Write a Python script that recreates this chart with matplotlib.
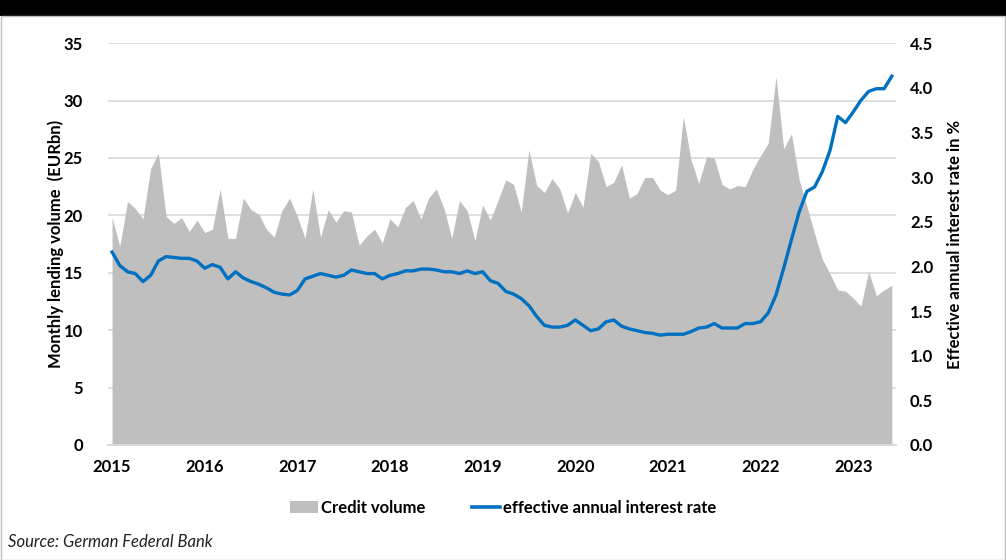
import matplotlib.pyplot as plt
from matplotlib.patches import Rectangle, Patch
from matplotlib.lines import Line2D

plt.rcParams['font.family'] = ['Lato', 'DejaVu Sans']

# monthly data, Jan 2015 - Jun 2023
credit_volume = [
    19.8, 17.3, 21.2, 20.6, 19.7, 24.1, 25.4, 19.9, 19.3, 19.8, 18.6, 19.6,   # 2015
    18.5, 18.8, 22.3, 18.0, 18.0, 21.5, 20.5, 20.1, 18.8, 18.1, 20.4, 21.5,   # 2016
    19.9, 18.0, 22.3, 18.1, 20.5, 19.4, 20.4, 20.3, 17.4, 18.2, 18.8, 17.6,   # 2017
    19.7, 19.0, 20.7, 21.3, 19.7, 21.5, 22.3, 20.6, 18.0, 21.3, 20.4, 17.8,   # 2018
    20.9, 19.6, 21.3, 23.1, 22.7, 20.3, 25.7, 22.6, 22.0, 23.2, 22.3, 20.2,   # 2019
    22.0, 20.7, 25.4, 24.7, 22.5, 22.9, 24.4, 21.5, 21.9, 23.3, 23.3, 22.2,   # 2020
    21.8, 22.2, 28.6, 24.8, 22.8, 25.1, 25.0, 22.7, 22.3, 22.6, 22.5, 24.0,   # 2021
    25.2, 26.3, 32.1, 25.8, 27.1, 23.1, 20.8, 18.4, 16.2, 14.9, 13.5, 13.4,   # 2022
    12.8, 12.1, 15.1, 13.0, 13.5, 13.9,                                       # 2023
]

interest_rate = [
    2.16, 2.01, 1.94, 1.92, 1.83, 1.90, 2.06, 2.11, 2.10, 2.09, 2.09, 2.06,
    1.98, 2.02, 1.99, 1.86, 1.94, 1.87, 1.83, 1.80, 1.76, 1.71, 1.69, 1.68,
    1.73, 1.86, 1.89, 1.92, 1.90, 1.88, 1.90, 1.96, 1.94, 1.92, 1.92, 1.86,
    1.90, 1.92, 1.95, 1.95, 1.97, 1.97, 1.96, 1.94, 1.94, 1.92, 1.95, 1.92,
    1.94, 1.84, 1.81, 1.72, 1.69, 1.64, 1.56, 1.44, 1.34, 1.32, 1.32, 1.34,
    1.40, 1.34, 1.28, 1.30, 1.38, 1.40, 1.33, 1.30, 1.28, 1.26, 1.25, 1.23,
    1.24, 1.24, 1.24, 1.27, 1.31, 1.32, 1.36, 1.31, 1.31, 1.31, 1.36, 1.36,
    1.38, 1.48, 1.68, 1.98, 2.30, 2.61, 2.84, 2.89, 3.06, 3.30, 3.68, 3.61,
    3.73, 3.86, 3.96, 3.99, 3.99, 4.13,
]

year_labels = ["2015", "2016", "2017", "2018", "2019", "2020", "2021", "2022", "2023"]
left_ticks = [0, 5, 10, 15, 20, 25, 30, 35]
right_ticks = [0.0, 0.5, 1.0, 1.5, 2.0, 2.5, 3.0, 3.5, 4.0, 4.5]

months = list(range(len(credit_volume)))

fig = plt.figure(figsize=(10.06, 5.6), dpi=100)
ax = fig.add_axes([0.1074, 0.2054, 0.7833, 0.7175])
ax2 = ax.twinx()

# credit volume area
ax.fill_between(months, credit_volume, 0, color="#BFBFBF", linewidth=0, zorder=2)
ax.set_ylim(0, 35)
ax.set_yticks(left_ticks)
ax.set_xlim(-0.52, 101.55)
ax.set_xticks([12 * k for k in range(len(year_labels))])
ax.set_xticklabels(year_labels)
ax.grid(axis="y", color="#D9D9D9", linewidth=1.2, zorder=0)
ax.set_axisbelow(True)

# interest rate line
ax2.plot(months, interest_rate, color="#0070C0", linewidth=2.4, solid_joinstyle="round", zorder=3)
ax2.set_ylim(0, 4.5)
ax2.set_yticks(right_ticks)
ax2.set_yticklabels([f"{v:.1f}" for v in right_ticks])

for a in (ax, ax2):
    for side in ("top", "left", "right"):
        a.spines[side].set_visible(False)
    a.spines["bottom"].set_color("#D9D9D9")
    a.spines["bottom"].set_linewidth(1.2)
    a.tick_params(length=0, labelsize=12)
    for lbl in a.get_xticklabels() + a.get_yticklabels():
        lbl.set_fontweight("bold")

ax.tick_params(axis="y", pad=18)
ax.tick_params(axis="x", pad=10)
ax2.tick_params(axis="y", pad=10)

ax.set_ylabel("Monthly lending volume  (EURbn)", fontsize=12, fontweight="bold")
ax.yaxis.set_label_coords(-0.056, 0.5)
ax2.set_ylabel("Effective annual interest rate in %", fontsize=12, fontweight="bold", labelpad=10)

handles = [
    Patch(facecolor="#BFBFBF", edgecolor="none"),
    Line2D([0], [0], color="#0070C0", linewidth=2.6),
]
fig.legend(handles, ["Credit volume", "effective annual interest rate"],
           loc="center", bbox_to_anchor=(0.5, 0.093), ncol=2, frameon=False,
           prop={"weight": "bold", "size": 12},
           handlelength=1.7, handletextpad=0.15, columnspacing=2.8)

fig.text(0.008, 0.023, "Source: German Federal Bank", fontsize=12, style="italic", color="#222222")

# black band at the top and thin frame
fig.patches.append(Rectangle((0, 0.972), 1, 0.03, transform=fig.transFigure,
                             facecolor="black", edgecolor="none"))
fig.patches.append(Rectangle((0.0005, 0), 0.999, 0.972, transform=fig.transFigure,
                             facecolor="none", edgecolor="#BFBFBF", linewidth=1))

fig.savefig("out.png", dpi=100)
